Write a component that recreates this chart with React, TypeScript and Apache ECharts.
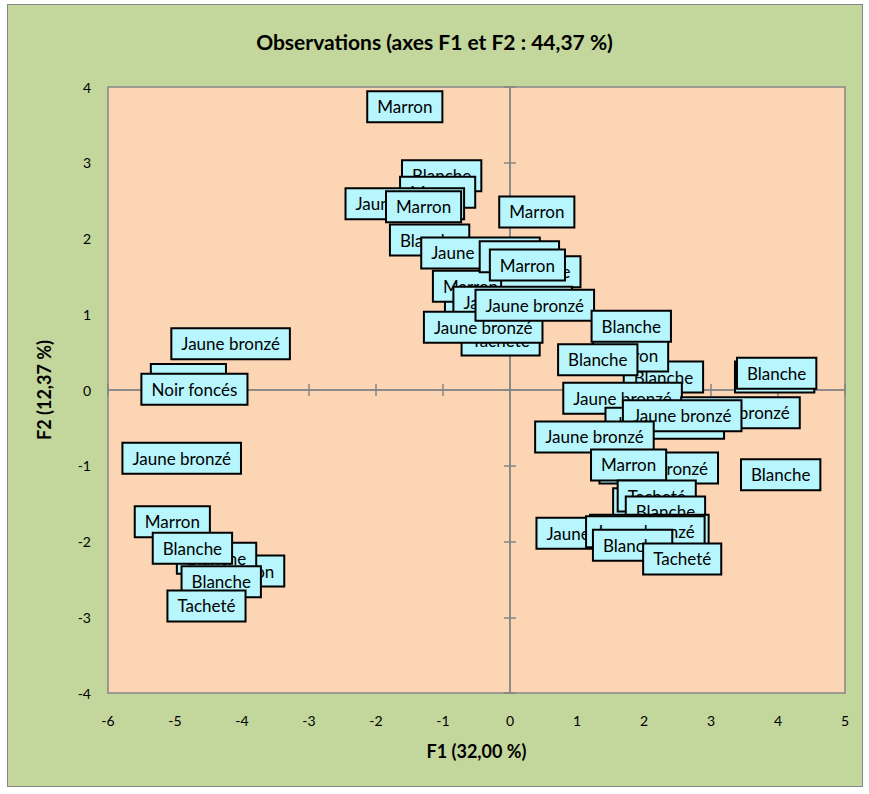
import React, { useEffect, useRef } from "react";
import * as echarts from "echarts";

const titleText = "Observations (axes F1 et F2 : 44,37 %)";
const xAxisName = "F1 (32,00 %)";
const yAxisName = "F2 (12,37 %)";

const labels: string[] = [
  "Jaune bronzé", "Marron", "Noir foncés", "Jaune bronzé", "Marron", "Marron", "Blanche", "Blanche", "Blanche", "Tacheté",
  "Marron", "Blanche", "Marron", "Jaune bronzé", "Marron", "Marron", "Tacheté", "Marron", "Marron",
  "Blanche", "Jaune bronzé", "Blanche", "Blanche", "Marron", "Jaune bronzé", "Jaune bronzé", "Jaune bronzé",
  "Blanche", "Marron", "Blanche", "Blanche", "Jaune bronzé", "Jaune bronzé", "Jaune bronzé", "Jaune bronzé", "Jaune bronzé",
  "Blanche", "Blanche", "Jaune bronzé", "Marron", "Blanche", "Marron", "Tacheté", "Blanche",
  "Jaune bronzé", "Jaune bronzé", "Jaune bronzé", "Blanche", "Tacheté",
];
const f1: number[] = [
  -4.17, -4.8, -4.71, -4.9, -5.04, -3.93, -4.38, -4.74, -4.31, -4.53,
  -1.57, -1.02, -1.08, -1.57, -1.29, 0.4, -0.14, -0.41, -0.59,
  -1.2, -0.44, 0.14, 0.46, 0.26, 0.04, -0.4, 0.37,
  2.29, 1.8, 1.31, 1.81, 1.68, 3.44, 2.31, 2.57, 1.26,
  3.95, 3.98, 2.22, 1.77, 4.04, 2.1, 2.19, 2.32,
  1.28, 2.08, 2.02, 1.83, 2.57,
];
const f2: number[] = [
  0.61, 0.14, 0.01, -0.9, -1.74, -2.39, -2.22, -2.09, -2.53, -2.85,
  3.74, 2.83, 2.61, 2.46, 2.42, 2.35, 0.66, 1.04, 1.37,
  1.98, 1.81, 1.76, 1.56, 1.65, 1.16, 0.83, 1.12,
  0.17, 0.45, 0.4, 0.84, -0.11, -0.3, -0.44, -0.34, -0.62,
  0.17, 0.22, -1.03, -0.99, -1.12, -1.5, -1.4, -1.61,
  -1.89, -1.85, -1.87, -2.05, -2.23,
];

const xMin = -6, xMax = 5, yMin = -4, yMax = 4;

const FONT = "Lato, 'Open Sans', sans-serif";
const GRAY = "#868686";

export default function App() {
  const ref = useRef<HTMLDivElement>(null);
  useEffect(() => {
    if (!ref.current) return;
    const chart = echarts.init(ref.current, undefined, { renderer: "svg" });
    const zeroX = (inside: boolean) => ({
      type: "value", min: xMin, max: xMax, interval: 1,
      axisLine: { show: true, onZero: true, onZeroAxisIndex: 0, lineStyle: { color: GRAY, width: 1.5 } },
      axisTick: { show: true, inside, length: 6, lineStyle: { color: GRAY, width: 1.5 } },
      axisLabel: { show: false }, splitLine: { show: false },
    });
    const zeroY = (inside: boolean) => ({
      type: "value", min: yMin, max: yMax, interval: 1,
      axisLine: { show: true, onZero: true, onZeroAxisIndex: 0, lineStyle: { color: GRAY, width: 1.5 } },
      axisTick: { show: true, inside, length: 6, lineStyle: { color: GRAY, width: 1.5 } },
      axisLabel: { show: false }, splitLine: { show: false },
    });
    const data = labels.map((name, i) => ({ name, value: [f1[i], f2[i]] }));
    chart.setOption({
      animation: false,
      title: {
        text: titleText, left: "center", top: 21,
        textStyle: { fontFamily: FONT, fontWeight: "bold", fontSize: 21, color: "#000" },
      },
      grid: {
        left: 100, top: 82, width: 737, height: 606, show: true,
        backgroundColor: "#fcd5b5", borderColor: GRAY, borderWidth: 1.5,
      },
      xAxis: [
        {
          type: "value", min: xMin, max: xMax, interval: 1, position: "bottom",
          axisLine: { show: false, onZero: false }, axisTick: { show: false }, splitLine: { show: false },
          axisLabel: { margin: 20, fontSize: 14, fontFamily: FONT, color: "#000" },
          name: xAxisName, nameLocation: "middle", nameGap: 49,
          nameTextStyle: { fontFamily: FONT, fontWeight: "bold", fontSize: 18, color: "#000" },
        },
        zeroX(true),
        zeroX(false),
      ],
      yAxis: [
        {
          type: "value", min: yMin, max: yMax, interval: 1, position: "left",
          axisLine: { show: false, onZero: false }, axisTick: { show: false }, splitLine: { show: false },
          axisLabel: { margin: 17, fontSize: 14, fontFamily: FONT, color: "#000" },
          name: yAxisName, nameLocation: "middle", nameGap: 55, nameRotate: 90,
          nameTextStyle: { fontFamily: FONT, fontWeight: "bold", fontSize: 18, color: "#000" },
        },
        zeroY(true),
        zeroY(false),
      ],
      series: [
        {
          type: "scatter", xAxisIndex: 0, yAxisIndex: 0, data,
          symbolSize: 1, itemStyle: { color: "rgba(0,0,0,0)", opacity: 1 },
          label: {
            show: true, position: "inside", formatter: "{b}",
            fontFamily: FONT, fontSize: 17, color: "#000", lineHeight: 20,
            backgroundColor: "#b8f6fd", borderColor: "#000", borderWidth: 2,
            padding: [5, 9, 4, 9],
          },
          emphasis: { disabled: true },
        },
      ],
    });
    return () => chart.dispose();
  }, []);
  return (
    <div
      style={{
        position: "absolute", left: 7, top: 4, width: 856, height: 783,
        boxSizing: "border-box", border: "1.5px solid #868686", background: "#c3d69b",
      }}
    >
      <div ref={ref} style={{ width: 853, height: 780 }} />
    </div>
  );
}
